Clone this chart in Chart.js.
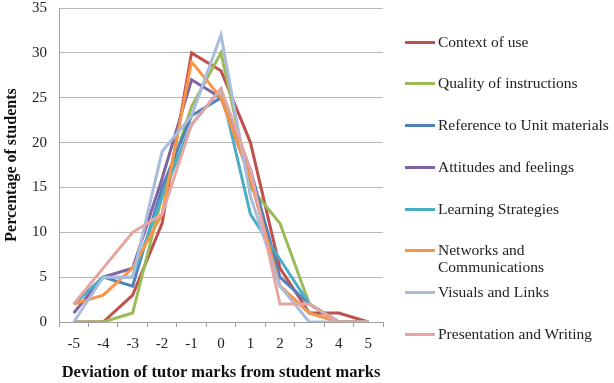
<!DOCTYPE html>
<html>
<head>
<meta charset="utf-8">
<script src="https://cdn.jsdelivr.net/npm/chart.js@4/dist/chart.umd.min.js"></script>
<style>
  html, body { margin: 0; padding: 0; background: #fff; }
  #wrap { position: relative; width: 614px; height: 383px; }
  #c { position: absolute; left: 0; top: 0; }
  #legend { position: absolute; left: 405px; top: 0; font-family: "Liberation Serif", serif; font-size: 15.5px; color: #222; }
  .item { position: absolute; left: 0; white-space: nowrap; }
  .swatch { position: absolute; left: 0; width: 30px; height: 3px; }
  .txt { position: absolute; left: 33px; line-height: 17px; }
</style>
</head>
<body>
<div id="wrap">
  <canvas id="c" width="614" height="383"></canvas>
  <div id="legend"></div>
</div>
<script>
const categories = ["-5","-4","-3","-2","-1","0","1","2","3","4","5"];
const seriesNames = ["Context of use","Quality of instructions","Reference to Unit materials","Attitudes and feelings","Learning Strategies","Networks and Communications","Visuals and Links","Presentation and Writing"];
const contextOfUse        = [0,0,3,11,30,28,20,6,1,1,0];
const qualityOfInstr      = [0,0,1,14,24,30,15,11,2,0,0];
const referenceToUnit     = [2,5,4,15,23,25,17,5,2,0,0];
const attitudesFeelings   = [1,5,6,16,27,25,16,4,1,0,0];
const learningStrategies  = [2,5,5,14,22,26,12,7,2,0,0];
const networksComms       = [2,3,6,12,29,25,16,4,1,0,0];
const visualsLinks        = [0,5,5,19,23,32,14,4,0,0,0];
const presentationWriting = [2,6,10,12,22,26,17,2,2,0,0];
const yTicks = [0,5,10,15,20,25,30,35];

const seriesValues = [contextOfUse, qualityOfInstr, referenceToUnit, attitudesFeelings, learningStrategies, networksComms, visualsLinks, presentationWriting];
const colors = ["#C0504D","#9BBB59","#4F81BD","#8064A2","#4BACC6","#F79646","#A9BCDB","#E6A4A3"];

const datasets = seriesNames.map((name, i) => ({
  label: name,
  data: seriesValues[i],
  borderColor: colors[i],
  backgroundColor: colors[i],
  borderWidth: 3,
  pointRadius: 0,
  tension: 0,
  fill: false,
  order: seriesNames.length - i
}));

const serif = "'Liberation Serif', serif";

new Chart(document.getElementById('c'), {
  type: 'line',
  data: { labels: categories, datasets },
  options: {
    responsive: false,
    animation: false,
    layout: { padding: { left: 2, top: 8, right: 231, bottom: 0 } },
    plugins: { legend: { display: false }, tooltip: { enabled: false } },
    scales: {
      x: {
        type: 'category',
        offset: true,
        grid: { offset: true, drawOnChartArea: false, drawTicks: true, tickLength: 5, color: '#a0a0a0' },
        border: { color: '#a0a0a0', width: 1 },
        ticks: { color: '#222', font: { family: serif, size: 15 }, padding: 8, maxRotation: 0 },
        title: { display: true, text: 'Deviation of tutor marks from student marks', color: '#111', font: { family: serif, size: 16.5, weight: 'bold' }, padding: { top: 6, bottom: 0 } },
        afterFit: (s) => { s.height = 61; }
      },
      y: {
        min: 0, max: 35,
        afterBuildTicks: (s) => { s.ticks = yTicks.map(v => ({ value: v })); },
        grid: { color: '#b8b8b8', drawTicks: false, lineWidth: 1 },
        border: { color: '#a0a0a0', width: 1 },
        ticks: { color: '#222', font: { family: serif, size: 15 }, padding: 12 },
        title: { display: true, text: 'Percentage of students', color: '#111', font: { family: serif, size: 16, weight: 'bold' }, padding: { top: 0, bottom: 8 } },
        afterFit: (s) => { s.width = 57; s.paddingTop = 0; s.paddingBottom = 0; }
      }
    }
  }
});

const legendTops = [42, 83, 125, 167, 209, 250, 292, 334];
const lg = document.getElementById('legend');
seriesNames.forEach((name, i) => {
  const it = document.createElement('div');
  it.className = 'item';
  it.style.top = legendTops[i] + 'px';
  const sw = document.createElement('div');
  sw.className = 'swatch';
  sw.style.background = colors[i];
  sw.style.top = '-1px';
  const tx = document.createElement('div');
  tx.className = 'txt';
  tx.style.top = '-9px';
  if (name === 'Networks and Communications') {
    tx.innerHTML = 'Networks and<br>Communications';
  } else {
    tx.textContent = name;
  }
  it.appendChild(sw); it.appendChild(tx);
  lg.appendChild(it);
});
</script>
</body>
</html>
